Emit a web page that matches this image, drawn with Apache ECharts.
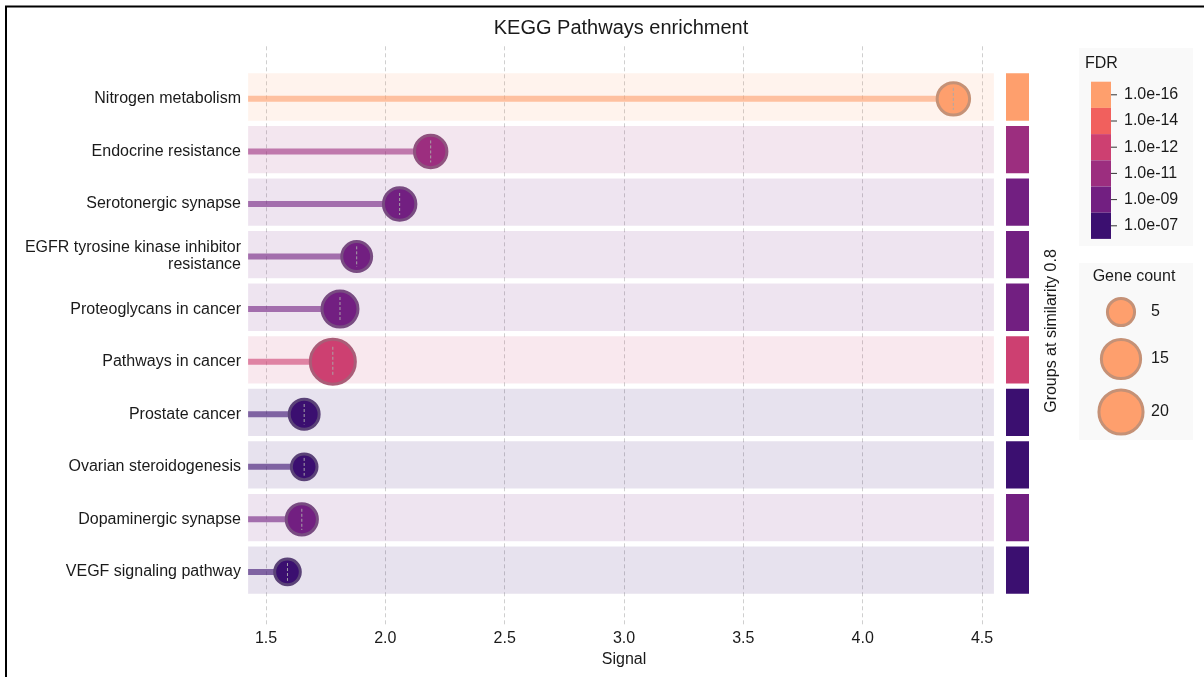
<!DOCTYPE html>
<html><head><meta charset="utf-8">
<script src="https://cdn.jsdelivr.net/npm/echarts@6/dist/echarts.min.js"></script>
<style>html,body{margin:0;padding:0;background:#fff}#c{width:1204px;height:677px}</style>
</head><body><div id="c"></div>
<script>
// ---- data ----
const pathways = ['Nitrogen metabolism','Endocrine resistance','Serotonergic synapse','EGFR tyrosine kinase inhibitor\nresistance','Proteoglycans in cancer','Pathways in cancer','Prostate cancer','Ovarian steroidogenesis','Dopaminergic synapse','VEGF signaling pathway'];
const signal = [4.38, 2.19, 2.06, 1.88, 1.81, 1.78, 1.66, 1.66, 1.65, 1.59];
const geneCount = [9, 9, 9, 7, 12, 21, 7, 4, 8, 4];
const fdr = [1.0e-17, 1.5e-11, 8.0e-10, 1.2e-9, 6.0e-10, 9.0e-13, 1.1e-7, 1.3e-7, 1.5e-9, 9.0e-8];
const fdrTicks = [1e-16, 1e-14, 1e-12, 1e-11, 1e-9, 1e-7];
const fdrTickLabels = ['1.0e-16','1.0e-14','1.0e-12','1.0e-11','1.0e-09','1.0e-07'];
const fdrColors = ['#fe9f6d','#f1605d','#cd4071','#9c2e7f','#721f81','#3b0f70'];
const legendCounts = [5, 15, 20];
const xMin = 1.5, xMax = 4.5, xInterval = 0.5;
const bandMin = 1.425, bandMax = 4.55;

// ---- helpers ----
const FONT = '"Liberation Sans", Arial, sans-serif';
const TXT = '#1a1a1a';
function rgb(h){h=h.replace('#','');return [0,2,4].map(i=>parseInt(h.substr(i,2),16));}
function rgba(h,a){const c=rgb(h);return 'rgba('+c[0]+','+c[1]+','+c[2]+','+a+')';}
function mixGrey(h,t){const c=rgb(h);return 'rgb('+c.map(v=>Math.round(v*(1-t)+128*t)).join(',')+')';}
function binOf(f){let best=0,bd=1e9;fdrTicks.forEach((t,i)=>{const d=Math.abs(Math.log10(f)-Math.log10(t));if(d<bd){bd=d;best=i;}});return best;}
function diam(c){return Math.sqrt(470 + 87.5*c);}
const rowColor = fdr.map(f=>fdrColors[binOf(f)]);
const BW = 3;
const BAND = 0.9, BOFF = -0.035;

const bubbleData = signal.map((s,i)=>({
  value:[s,i,geneCount[i]],
  symbolSize: diam(geneCount[i]) - BW,
  itemStyle:{color:rowColor[i], borderColor:mixGrey(rowColor[i],0.45), borderWidth:BW, opacity:1}
}));

function bandRect(api, x0, x1, i){
  const p0 = api.coord([x0, i - BAND/2 + BOFF]);
  const p1 = api.coord([x1, i + BAND/2 + BOFF]);
  return {x:Math.min(p0[0],p1[0]), y:Math.min(p0[1],p1[1]), width:Math.abs(p1[0]-p0[0]), height:Math.abs(p1[1]-p0[1])};
}

const yAxisCommon = {type:'value', min:-1, max:10, interval:1, inverse:true};

const option = {
  animation:false,
  backgroundColor:'#fff',
  title:{text:'KEGG Pathways enrichment', left:621, top:18, textAlign:'center', padding:0,
    textStyle:{fontSize:20, fontWeight:'normal', color:TXT, fontFamily:FONT}},
  grid:[
    {left:266, right:222, top:46.3, bottom:52.5},
    {left:1006, width:23, top:46.3, bottom:52.5}
  ],
  xAxis:[
    {type:'value', gridIndex:0, min:xMin, max:xMax, interval:xInterval,
     axisLine:{show:false}, axisTick:{show:false},
     axisLabel:{fontSize:16, color:TXT, fontFamily:FONT, margin:6, formatter:v=>v.toFixed(1)},
     splitLine:{show:true, lineStyle:{type:[4,3], color:'#cfcfcf', width:1}},
     name:'Signal', nameLocation:'middle', nameGap:27,
     nameTextStyle:{fontSize:16, color:TXT, fontFamily:FONT}},
    {type:'value', gridIndex:1, min:0, max:1, show:false}
  ],
  yAxis:[
    Object.assign({gridIndex:0,
      axisLine:{show:false}, axisTick:{show:false}, splitLine:{show:false},
      axisLabel:{fontSize:16, color:TXT, fontFamily:FONT, margin:25, lineHeight:17,
        formatter:v=>(pathways[v]!==undefined?pathways[v]:'')}}, yAxisCommon),
    Object.assign({gridIndex:1, show:false}, yAxisCommon)
  ],
  series:[
    {type:'custom', name:'bands', xAxisIndex:0, yAxisIndex:0, silent:true, z:1, clip:false,
     data: pathways.map((p,i)=>[bandMin, i]),
     renderItem:(params, api)=>{
       const i = api.value(1);
       return {type:'rect', shape:bandRect(api, bandMin, bandMax, i), style:{fill:rgba(rowColor[i],0.12)}};
     }},
    {type:'custom', name:'stems', xAxisIndex:0, yAxisIndex:0, silent:true, z:2, clip:false,
     data: signal.map((s,i)=>[s, i]),
     renderItem:(params, api)=>{
       const i = api.value(1);
       const p0 = api.coord([bandMin, i]);
       const p1 = api.coord([api.value(0), i]);
       return {type:'line', shape:{x1:p0[0], y1:p0[1], x2:p1[0], y2:p1[1]},
         style:{stroke:rgba(rowColor[i],0.6), lineWidth:6}};
     }},
    {type:'scatter', name:'bubbles', xAxisIndex:0, yAxisIndex:0, z:3, clip:false,
     data: bubbleData},
    {type:'custom', name:'centre', xAxisIndex:0, yAxisIndex:0, silent:true, z:4, clip:false,
     data: signal.map((s,i)=>[s, i, geneCount[i]]),
     renderItem:(params, api)=>{
       const p = api.coord([api.value(0), api.value(1)]);
       const h = diam(api.value(2))*0.31;
       return {type:'line', z2:10, shape:{x1:p[0], y1:p[1]-h, x2:p[0], y2:p[1]+h},
         style:{stroke:'rgba(170,170,170,0.95)', lineWidth:1, lineDash:[3,2]}};
     }},
    {type:'custom', name:'groups', xAxisIndex:1, yAxisIndex:1, silent:true, clip:false,
     data: pathways.map((p,i)=>[0, i]),
     renderItem:(params, api)=>{
       const i = api.value(1);
       return {type:'rect', shape:bandRect(api, 0, 1, i), style:{fill:rowColor[i]}};
     }}
  ],
  graphic:[]
};

// borders
option.graphic.push({type:'line', silent:true, shape:{x1:5, y1:6.5, x2:1204, y2:6.5}, style:{stroke:'#000', lineWidth:2}});
option.graphic.push({type:'line', silent:true, shape:{x1:6, y1:6, x2:6, y2:677}, style:{stroke:'#000', lineWidth:2}});
// group axis title
option.graphic.push({type:'text', silent:true, x:1052, y:331, rotation:Math.PI/2,
  style:{text:'Groups at similarity 0.8', fill:TXT, font:'16px '+FONT, align:'center', verticalAlign:'middle'}});
// FDR legend
option.graphic.push({type:'rect', silent:true, shape:{x:1079, y:48, width:114, height:198}, style:{fill:'#f9f9f9'}});
option.graphic.push({type:'text', silent:true, x:1085, y:64, style:{text:'FDR', fill:TXT, font:'16px '+FONT, align:'left', verticalAlign:'middle'}});
const blkTop = 81.7, blkH = 26.2;
fdrColors.forEach((c,k)=>{
  const cy = blkTop + blkH*k + blkH/2;
  option.graphic.push({type:'rect', silent:true, shape:{x:1091, y:blkTop+blkH*k, width:20, height:blkH}, style:{fill:c}});
  option.graphic.push({type:'line', silent:true, shape:{x1:1111, y1:cy, x2:1117, y2:cy}, style:{stroke:'#333', lineWidth:1}});
  option.graphic.push({type:'text', silent:true, x:1124, y:cy, style:{text:fdrTickLabels[k], fill:TXT, font:'16px '+FONT, align:'left', verticalAlign:'middle'}});
});
// Gene count legend
option.graphic.push({type:'rect', silent:true, shape:{x:1079, y:263, width:114, height:177}, style:{fill:'#f9f9f9'}});
option.graphic.push({type:'text', silent:true, x:1134, y:277, style:{text:'Gene count', fill:TXT, font:'16px '+FONT, align:'center', verticalAlign:'middle'}});
const legY = [312, 359, 412];
legendCounts.forEach((c,k)=>{
  const d = diam(c);
  option.graphic.push({type:'circle', silent:true, shape:{cx:1121, cy:legY[k], r:(d-BW)/2},
    style:{fill:fdrColors[0], stroke:mixGrey(fdrColors[0],0.45), lineWidth:BW}});
  option.graphic.push({type:'text', silent:true, x:1151, y:legY[k], style:{text:String(c), fill:TXT, font:'16px '+FONT, align:'left', verticalAlign:'middle'}});
});

const chart = echarts.init(document.getElementById('c'), null, {renderer:'canvas'});
chart.setOption(option);
</script>
</body></html>
